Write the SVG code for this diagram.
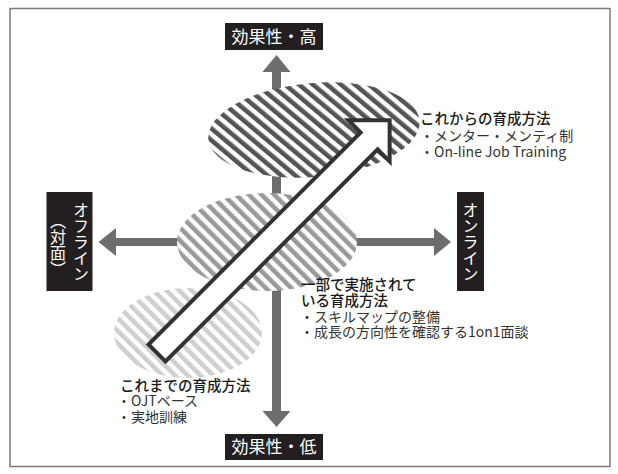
<svg xmlns="http://www.w3.org/2000/svg" width="618" height="474" viewBox="0 0 618 474">
<style>
.frame{fill:#fff;stroke:#7a7a7a;stroke-width:1.5}
.axis{fill:#6d6d6d}
.lbl{fill:#231f20}
.lt{font-family:"Noto Sans CJK JP","Noto Sans",sans-serif;font-size:17px;fill:#fff;text-anchor:middle}
.vt{font-family:"Noto Sans CJK JP","Noto Sans",sans-serif;font-size:16px;fill:#fff;text-anchor:middle;writing-mode:vertical-rl}
.hd{font-family:"Noto Sans CJK JP","Noto Sans",sans-serif;font-size:14.5px;fill:#1a1a1a;font-weight:500}
.bl{font-family:"Noto Sans CJK JP","Noto Sans",sans-serif;font-size:14px;fill:#333}
.big{fill:#fff;stroke:#333;stroke-width:4;stroke-linejoin:miter}
</style>
<defs>
<pattern id="hDark" patternUnits="userSpaceOnUse" width="9" height="9" patternTransform="rotate(-45)">
<rect width="9" height="9" fill="#fff"/><rect width="4.6" height="9" fill="#555"/>
</pattern>
<pattern id="hMid" patternUnits="userSpaceOnUse" width="9" height="9" patternTransform="rotate(-45)">
<rect width="9" height="9" fill="#fff"/><rect width="4.6" height="9" fill="#9a9a9a"/>
</pattern>
<pattern id="hLight" patternUnits="userSpaceOnUse" width="9" height="9" patternTransform="rotate(-45)">
<rect width="9" height="9" fill="#fff"/><rect width="4.6" height="9" fill="#cfcfcf"/>
</pattern>
</defs>
<rect class="frame" x="10" y="8.5" width="600" height="458"/>
<g id="connectors">
<rect class="axis" x="272" y="70" width="9" height="343"/>
<polygon class="axis" points="276.5,55 290.5,72 262.5,72"/>
<polygon class="axis" points="262.5,411 290.5,411 276.5,427"/>
<rect class="axis" x="114" y="238" width="322" height="8"/>
<polygon class="axis" points="98.5,242 116,228 116,256"/>
<polygon class="axis" points="451,242 434,228 434,256"/>
</g>
<g id="ellipse-bottom"><ellipse cx="188" cy="333" rx="74" ry="45" fill="url(#hLight)"/></g>
<g id="ellipse-middle"><ellipse cx="267" cy="242" rx="90" ry="49" fill="url(#hMid)"/></g>
<g id="ellipse-top"><ellipse cx="314" cy="130" rx="106" ry="47" fill="url(#hDark)" transform="rotate(-5 314 130)"/></g>
<g id="big-arrow">
<path class="big" transform="translate(157,353) rotate(-45)" d="M0,-12 L300,-12 L300,-29 L329,0 L300,29 L300,12 L0,12 Z"/>
</g>
<g id="label-top"><rect class="lbl" x="225" y="23" width="98" height="27"/><text class="lt" x="274" y="43">効果性・高</text></g>
<g id="label-bottom"><rect class="lbl" x="225" y="434" width="98" height="26"/><text class="lt" x="274" y="453">効果性・低</text></g>
<g id="label-left"><rect class="lbl" x="46.5" y="192" width="46" height="99"/>
<text class="vt" x="81" y="242">オフライン</text>
<text class="vt" x="58" y="245">（対面）</text></g>
<g id="label-right"><rect class="lbl" x="457" y="192" width="27" height="99"/>
<text class="vt" x="470.5" y="242">オンライン</text></g>
<g id="text-future">
<text class="hd" x="420" y="123.5">これからの育成方法</text>
<text class="bl" x="420" y="140.5">・メンター・メンティ制</text>
<text class="bl" x="420" y="157">・On-line Job Training</text>
</g>
<g id="text-partial">
<text class="hd" x="301" y="290">一部で実施されて</text>
<text class="hd" x="301" y="305.5">いる育成方法</text>
<text class="bl" x="300" y="321.5">・スキルマップの整備</text>
<text class="bl" x="300" y="337">・成長の方向性を確認する1on1面談</text>
</g>
<g id="text-past">
<text class="hd" x="120" y="390.5">これまでの育成方法</text>
<text class="bl" x="117" y="405.5">・OJTベース</text>
<text class="bl" x="117" y="421.5">・実地訓練</text>
</g>
</svg>
